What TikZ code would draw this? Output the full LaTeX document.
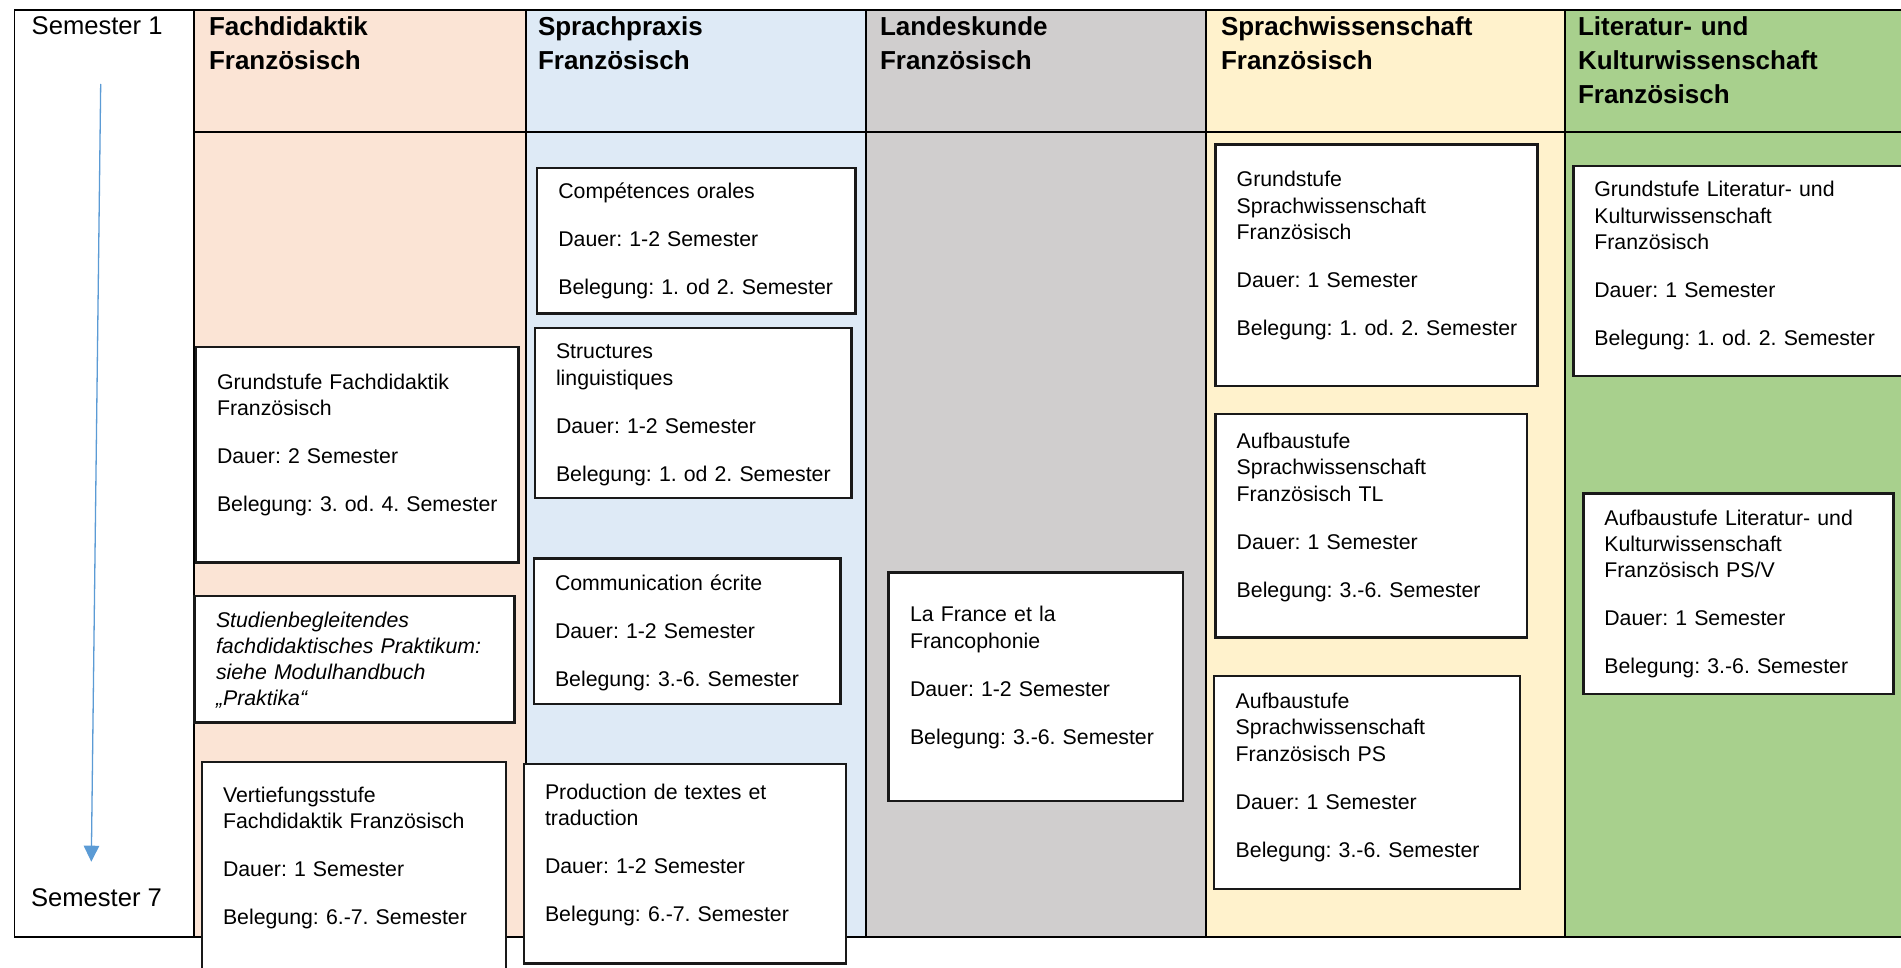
\documentclass[tikz,border=0pt]{standalone}
\usepackage{fontspec}
\setmainfont{Liberation Sans}
\usetikzlibrary{arrows.meta}
\definecolor{cpeach}{HTML}{FBE4D5}
\definecolor{cblue}{HTML}{DEEAF6}
\definecolor{cgrey}{HTML}{D0CECE}
\definecolor{cyellow}{HTML}{FFF2CC}
\definecolor{cgreen}{HTML}{A8D08D}
\definecolor{carrow}{HTML}{5B9BD5}
\newcommand\pgap{\\[21.6pt]}
\begin{document}
\frenchspacing
\begin{tikzpicture}[x=1pt,y=-1pt,
  modbox/.style={draw=black!90, line width=2.4pt, fill=white, inner sep=0pt, outer sep=0pt, anchor=north west},
  bodytxt/.style={anchor=base west, inner sep=0pt, outer sep=0pt, text width=400pt, align=left, font=\frenchspacing\fontsize{21.3}{26.4}\selectfont},
  headtxt/.style={anchor=base west, inner sep=0pt, outer sep=0pt, text width=340pt, align=left, font=\frenchspacing\bfseries\fontsize{26}{34}\selectfont},
  semtxt/.style={anchor=base west, inner sep=0pt, outer sep=0pt, font=\fontsize{25.6}{30}\selectfont},
  gridline/.style={line width=1.6pt, black},
  arrowst/.style={draw=carrow, line width=1.3pt, -{Triangle[width=15.5pt,length=16pt]}}]
\useasboundingbox (0,0) rectangle (1901,968);
\clip (0,0) rectangle (1901,968);
\fill[white] (0,0) rectangle (1901,968);
% column fills
\fill[cpeach] (193.7,10) rectangle (525.7,936.7);
\fill[cblue] (525.7,10) rectangle (866,936.7);
\fill[cgrey] (866,10) rectangle (1206,936.7);
\fill[cyellow] (1206,10) rectangle (1564.7,936.7);
\fill[cgreen] (1564.7,10) rectangle (1905,936.7);
% grid
\draw[gridline] (1905,10) -- (14.5,10) -- (14.5,936.7) -- (1905,936.7);
\foreach \xx in {193.7,525.7,866,1206,1564.7} \draw[gridline] (\xx,10) -- (\xx,936.7);
\draw[gridline] (193.7,132) -- (1905,132);
% headers
\node[semtxt] (sem1) at (31.7,35) {Semester 1};
\node[semtxt] (sem7) at (31,906.7) {Semester 7};
\node[headtxt] (h1) at (209,35.3) {Fachdidaktik\\Französisch};
\node[headtxt] (h2) at (538,35.3) {Sprachpraxis\\Französisch};
\node[headtxt] (h3) at (880,35.3) {Landeskunde\\Französisch};
\node[headtxt] (h4) at (1221,35.3) {Sprachwissenschaft\\Französisch};
\node[headtxt] (h5) at (1578,35.3) {Literatur- und\\Kulturwissenschaft\\Französisch};
% arrow
\coordinate (a1) at (100.7,84);
\coordinate (a2) at (91.3,861.7);
\draw[arrowst] (a1) -- (a2);
% Fachdidaktik
\node[modbox, minimum width=322.6pt, minimum height=215.6pt] (fgr) at (196,346.7) {};
\node[bodytxt] (fgrt) at (217,389.3) {Grundstufe Fachdidaktik\\Französisch\pgap Dauer: 2 Semester\pgap Belegung: 3. od. 4. Semester};
\node[modbox, minimum width=319.9pt, minimum height=126.3pt] (fst) at (194.6,596) {};
\node[bodytxt, font=\frenchspacing\itshape\fontsize{21.3}{26}\selectfont] (fstt) at (216,627.7) {Studienbegleitendes\\fachdidaktisches Praktikum:\\siehe Modulhandbuch\\„Praktika“};
\node[modbox, minimum width=304.4pt, minimum height=240pt] (fvt) at (201.8,761.7) {};
\node[bodytxt] (fvtt) at (223,802.3) {Vertiefungsstufe\\Fachdidaktik Französisch\pgap Dauer: 1 Semester\pgap Belegung: 6.-7. Semester};
% Sprachpraxis
\node[modbox, minimum width=318.6pt, minimum height=145.4pt] (sco) at (536.7,168.3) {};
\node[bodytxt] (scot) at (558.3,199) {Compétences orales\pgap Dauer: 1-2 Semester\pgap Belegung: 1. od 2. Semester};
\node[modbox, minimum width=316.3pt, minimum height=169.4pt] (sst) at (535,328.3) {};
\node[bodytxt] (sstt) at (556,359) {Structures\\linguistiques\pgap Dauer: 1-2 Semester\pgap Belegung: 1. od 2. Semester};
\node[modbox, minimum width=306.3pt, minimum height=145.7pt] (sce) at (534,558.3) {};
\node[bodytxt] (scet) at (555,590) {Communication écrite\pgap Dauer: 1-2 Semester\pgap Belegung: 3.-6. Semester};
\node[modbox, minimum width=322pt, minimum height=199.3pt] (spr) at (524,764) {};
\node[bodytxt] (sprt) at (545,799.3) {Production de textes et\\traduction\pgap Dauer: 1-2 Semester\pgap Belegung: 6.-7. Semester};
% Landeskunde
\node[modbox, minimum width=294.4pt, minimum height=228.7pt] (lfr) at (888.3,572.3) {};
\node[bodytxt] (lfrt) at (910,621.7) {La France et la\\Francophonie\pgap Dauer: 1-2 Semester\pgap Belegung: 3.-6. Semester};
% Sprachwissenschaft
\node[modbox, minimum width=322pt, minimum height=241.3pt] (wgr) at (1215.3,144.7) {};
\node[bodytxt] (wgrt) at (1236.7,186.7) {Grundstufe\\Sprachwissenschaft\\Französisch\pgap Dauer: 1 Semester\pgap Belegung: 1. od. 2. Semester};
\node[modbox, minimum width=311.4pt, minimum height=223.3pt] (wtl) at (1215.3,414) {};
\node[bodytxt] (wtlt) at (1236.7,448.3) {Aufbaustufe\\Sprachwissenschaft\\Französisch TL\pgap Dauer: 1 Semester\pgap Belegung: 3.-6. Semester};
\node[modbox, minimum width=306pt, minimum height=212.7pt] (wps) at (1214,676) {};
\node[bodytxt] (wpst) at (1235.7,708.3) {Aufbaustufe\\Sprachwissenschaft\\Französisch PS\pgap Dauer: 1 Semester\pgap Belegung: 3.-6. Semester};
% Literatur
\node[modbox, minimum width=340pt, minimum height=210pt] (kgr) at (1573.3,166) {};
\node[bodytxt] (kgrt) at (1594.3,196.7) {Grundstufe Literatur- und\\Kulturwissenschaft\\Französisch\pgap Dauer: 1 Semester\pgap Belegung: 1. od. 2. Semester};
\node[modbox, minimum width=310pt, minimum height=200.7pt] (kau) at (1583.3,493.3) {};
\node[bodytxt] (kaut) at (1604.3,525) {Aufbaustufe Literatur- und\\Kulturwissenschaft\\Französisch PS/V\pgap Dauer: 1 Semester\pgap Belegung: 3.-6. Semester};
\end{tikzpicture}
\end{document}
